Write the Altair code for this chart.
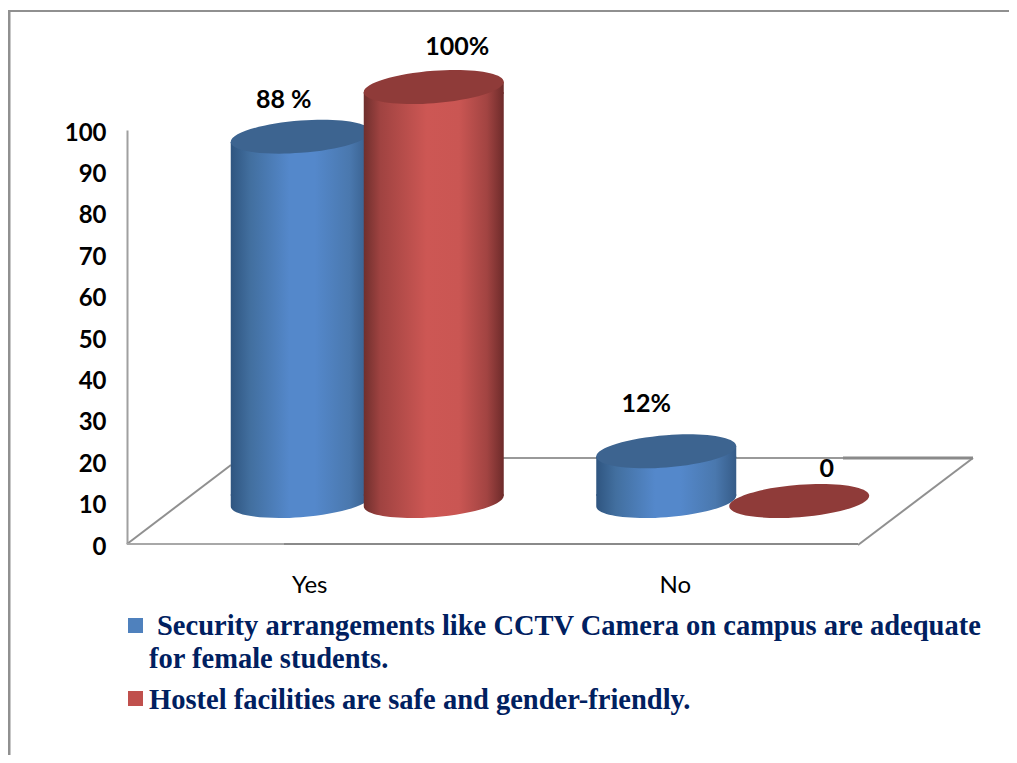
import altair as alt
import pandas as pd

categories = ["Yes", "No"]
series_names = ["Security", "Hostel"]
security_values = [88, 12]
hostel_values = [100, 0]
security_labels = ["88 %", "12%"]
hostel_labels = ["100%", "0"]
legend_lines = [
    "Security arrangements like CCTV Camera on campus are adequate",
    "for female students.",
    "Hostel facilities are safe and gender-friendly.",
]

# --- drawing constants -------------------------------------------------
PLOT_W, PLOT_H = 731, 414
PAD_L, PAD_T = 119, 122
CYL_W = 140
LIFT = -43                       # cylinder base sits above the axis floor
T, E = 0.075, 0.231              # ellipse tilt and half-height (unit width)
SEAM = 0.02                      # overlap between body and end caps
GRAY = "#8a8a8a"
NAVY = "#002060"
NUM_FONT = "Lato"


def grad(stops):
    return {"gradient": "linear", "x1": 0, "x2": 1, "y1": 0, "y2": 0,
            "stops": [{"offset": o, "color": c} for o, c in stops]}


STYLE = {
    "Security": {
        "shift": -9,
        "side": grad([(0, "#2f5580"), (0.14, "#426f9f"), (0.42, "#5488cb"),
                      (0.6, "#5488cb"), (0.85, "#4a78ae"), (1, "#365c88")]),
        "top": "#3d6490",
    },
    "Hostel": {
        "shift": 124,
        "side": grad([(0, "#6f2f2d"), (0.12, "#a04341"), (0.45, "#cd5754"),
                      (0.68, "#ca5653"), (0.88, "#a24442"), (1, "#6d2b2a")]),
        "top": "#8f3b39",
    },
}
LABEL_SHIFT = {
    ("Security", "Yes"): (-17, -29),
    ("Hostel", "Yes"): (23.5, -32),
    ("Security", "No"): (-20, -39),
    ("Hostel", "No"): (27.5, -24),
}

# unit-width tilted ellipse: a sheared circle drawn with cubic beziers
K = 0.5523


def P(x, y):
    return f"{x:.4f},{E * y - T * x:.4f}"


ELLIPSE = (f"M{P(1, 0)} C{P(1, K)} {P(K, 1)} {P(0, 1)} "
           f"C{P(-K, 1)} {P(-1, K)} {P(-1, 0)} "
           f"C{P(-1, -K)} {P(-K, -1)} {P(0, -1)} "
           f"C{P(K, -1)} {P(1, -K)} {P(1, 0)} Z")
TOP_WEDGE = f"M{P(-1, 0)} L{P(1, 0)} L1,{T + SEAM:.4f} L-1,{T + SEAM:.4f} Z"
BOTTOM_CAP = (f"M-1,{-T - SEAM:.4f} L1,{-T - SEAM:.4f} L{P(1, 0)} C{P(1, K)} {P(K, 1)} {P(0, 1)} "
              f"C{P(-K, 1)} {P(-1, K)} {P(-1, 0)} Z")

rows = []
for i, c in enumerate(categories):
    rows.append({"cat": c, "series": "Security", "value": security_values[i], "label": security_labels[i], "base": 0})
    rows.append({"cat": c, "series": "Hostel", "value": hostel_values[i], "label": hostel_labels[i], "base": 0})
df = pd.DataFrame(rows)

x_enc = alt.X("cat:N", sort=categories, title=None,
              scale=alt.Scale(domain=categories, paddingInner=0, paddingOuter=0),
              axis=alt.Axis(labelAngle=0, domain=False, ticks=False, labelFont=NUM_FONT,
                            labelFontSize=24, labelColor="#000000", labelPadding=29,
                            grid=False))
y_enc = alt.Y("value:Q", stack=None, title=None,
              scale=alt.Scale(domain=[0, 100], nice=False),
              axis=alt.Axis(values=list(range(0, 101, 10)), domainColor="#a0a0a0", domainWidth=2,
                            ticks=False, grid=False, labelFont=NUM_FONT, labelFontSize=24,
                            labelFontWeight="bold", labelColor="#000000", labelPadding=21,
                            labelOffset=3))

one = pd.DataFrame({"a": [0]})


def seg(x1, y1, x2, y2, width=2, color=GRAY):
    """Decorative floor / frame line given in page pixels."""
    ox, oy = PAD_L + 8, PAD_T + 8
    return alt.Chart(one).mark_rule(stroke=color, strokeWidth=width).encode(
        x=alt.value(x1 - ox), y=alt.value(y1 - oy),
        x2=alt.value(x2 - ox), y2=alt.value(y2 - oy))


frame = [
    seg(9, 10, 9, 755, 3, "#909090"),
    seg(8, 11, 1009, 11, 2, "#909090"),
    seg(127, 544, 231, 465, 2, "#909090"),
    seg(127, 544, 284, 544, 2, "#a8a8a8"),
    seg(284, 544, 858, 544, 2),
    seg(858, 545, 973, 458, 2, "#909090"),
    seg(231, 458, 843, 458, 2, "#999999"),
    seg(843, 458, 973, 458, 3),
]

base = alt.Chart(df)
layers = [base.mark_point(opacity=0).encode(x=x_enc, y=y_enc)] + frame

half = CYL_W / 2
cat_x = alt.X("cat:N", sort=categories, title=None)
val_y = alt.Y("value:Q", stack=None, title=None)
for s in series_names:
    st = STYLE[s]
    d = base.transform_filter(alt.datum.series == s)
    dbody = d.transform_filter(alt.datum.value > 0)
    layers.append(dbody.mark_bar(width=CYL_W, fill=st["side"], xOffset=st["shift"],
                                 yOffset=LIFT + T * half, y2Offset=LIFT - T * half).encode(
        x=cat_x, y=val_y, y2=alt.Y2("base:Q")))
    sym = dict(filled=True, size=CYL_W ** 2, opacity=1, strokeWidth=0, xOffset=st["shift"])
    # top wedge closes the gap beside the tilted lid
    layers.append(dbody.mark_point(shape=TOP_WEDGE, fill=st["side"], yOffset=LIFT, **sym).encode(
        x=cat_x, y=val_y))
    # rounded foot of the cylinder
    layers.append(dbody.mark_point(shape=BOTTOM_CAP, fill=st["side"], yOffset=LIFT, **sym).encode(
        x=cat_x, y=alt.Y("base:Q", title=None)))
    # lid
    layers.append(d.mark_point(shape=ELLIPSE, fill=st["top"], yOffset=LIFT, **sym).encode(
        x=cat_x, y=val_y))

for (s, c), (dx, dy) in LABEL_SHIFT.items():
    d = base.transform_filter((alt.datum.series == s) & (alt.datum.cat == c))
    layers.append(d.mark_text(font=NUM_FONT, fontSize=25, fontWeight="bold", color="#000000",
                              align="center", baseline="alphabetic",
                              dx=STYLE[s]["shift"] + dx, dy=LIFT + dy).encode(
        x=cat_x, y=val_y, text="label:N"))


def legend_text(text, px, py):
    return alt.Chart(pd.DataFrame({"t": [text]})).mark_text(
        font="Liberation Serif", fontSize=28.5, fontWeight="bold", color=NAVY,
        align="left", baseline="alphabetic").encode(
        x=alt.value(px - PAD_L - 8), y=alt.value(py - PAD_T - 8), text="t:N")


def legend_square(color, px, py):
    return alt.Chart(one).mark_point(shape="square", filled=True, size=225, opacity=1,
                                     color=color).encode(
        x=alt.value(px - PAD_L - 8), y=alt.value(py - PAD_T - 8))


layers += [
    legend_square("#4f81bd", 135.5, 625.5),
    legend_square("#c0504d", 135.5, 698.5),
    legend_text(legend_lines[0], 157, 635),
    legend_text(legend_lines[1], 149, 668),
    legend_text(legend_lines[2], 149, 709),
]

chart = alt.layer(*layers).properties(
    width=PLOT_W, height=PLOT_H,
    autosize=alt.AutoSizeParams(type="none"),
    padding={"left": PAD_L, "top": PAD_T, "right": 1001 - PAD_L - PLOT_W, "bottom": 747 - PAD_T - PLOT_H},
    background="white",
).configure_view(stroke=None)

chart.save("out.html", embed_options={"renderer": "svg", "actions": False})
